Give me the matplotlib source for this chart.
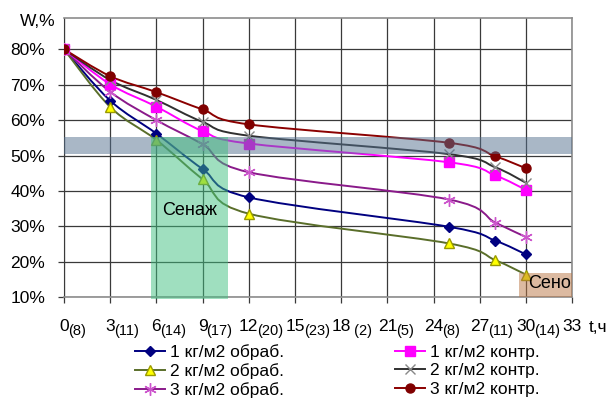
import numpy as np
import matplotlib
matplotlib.use('Agg')
import matplotlib.pyplot as plt
from matplotlib.path import Path
from matplotlib.patches import PathPatch, Rectangle
from matplotlib.lines import Line2D
from matplotlib.ticker import PercentFormatter

plt.rcParams['font.family'] = ['Liberation Sans', 'DejaVu Sans']

# ---------------- data ----------------
hours = [0, 3, 6, 9, 12, 25, 28, 30]
w_1_obr = [80, 65.5, 56.2, 46.2, 38.2, 29.9, 26.0, 22.1]
w_2_obr = [80, 63.7, 54.4, 43.3, 33.6, 25.2, 20.5, 16.4]
w_3_obr = [80, 68.0, 60.0, 53.2, 45.3, 37.6, 31.1, 27.0]
w_1_kon = [80, 70.1, 63.8, 56.9, 53.4, 48.1, 44.4, 40.3]
w_2_kon = [80, 71.3, 65.7, 59.5, 55.6, 50.4, 46.7, 42.3]
w_3_kon = [80, 72.4, 67.9, 63.0, 58.8, 53.6, 49.8, 46.4]
series_labels = ['1 кг/м2 обраб.', '2 кг/м2 обраб.', '3 кг/м2 обраб.',
                 '1 кг/м2 контр.', '2 кг/м2 контр.', '3 кг/м2 контр.']
tick_hours = [0, 3, 6, 9, 12, 15, 18, 21, 24, 27, 30, 33]
tick_main = ['0', '3', '6', '9', '12', '15', '18', '21', '24', '27', '30', '33']
tick_sub = ['(8)', '(11)', '(14)', '(17)', '(20)', '(23)', ' (2)', '(5)', '(8)', '(11)', '(14)', '']
y_ticks = [10, 20, 30, 40, 50, 60, 70, 80]

# ---------------- styles ----------------
styles = [
    dict(color='#000080', marker='D', ms=5, mfc='#000080', mec='#000080'),
    dict(color='#5A6E2A', marker='^', ms=7, mfc='#FFFF00', mec='#9A9A00'),
    dict(color='#8A1A8A', marker=(6, 2, 0), ms=9, mfc='#CC55CC', mec='#CC55CC'),
    dict(color='#FF00FF', marker='s', ms=6.5, mfc='#FF00FF', mec='#FF00FF'),
    dict(color='#303030', marker='x', ms=6.5, mfc='#888888', mec='#888888'),
    dict(color='#8B0000', marker='o', ms=6.5, mfc='#800000', mec='#800000'),
]
data = [w_1_obr, w_2_obr, w_3_obr, w_1_kon, w_2_kon, w_3_kon]

FS = 12.5


def smooth_path(x, y):
    p = np.column_stack([x, y]).astype(float)
    n = len(p)
    verts = [p[0]]
    codes = [Path.MOVETO]
    for i in range(n - 1):
        p0 = p[max(i - 1, 0)]
        p1 = p[i]
        p2 = p[i + 1]
        p3 = p[min(i + 2, n - 1)]
        c1 = p1 + (p2 - p0) / 6.0
        c2 = p2 - (p3 - p1) / 6.0
        verts += [c1, c2, p2]
        codes += [Path.CURVE4] * 3
    return Path(verts, codes)


fig = plt.figure(figsize=(6.13, 3.98), dpi=100)
ax = fig.add_axes([0.1044, 0.253, 0.829, 0.7025])

ax.set_xlim(0, 33)
ax.set_ylim(10, 88.9)

handles = []
for vals, st in zip(data, styles):
    patch = PathPatch(smooth_path(hours, vals), facecolor='none',
                      edgecolor=st['color'], lw=1.4, zorder=3)
    ax.add_patch(patch)
    ax.plot(hours, vals, ls='none', marker=st['marker'], ms=st['ms'],
            mfc=st['mfc'], mec=st['mec'], mew=1.0, zorder=3.5)
    handles.append(Line2D([], [], color=st['color'], lw=1.4, marker=st['marker'],
                          ms=st['ms'], mfc=st['mfc'], mec=st['mec'], mew=1.0))

# overlays
ax.add_patch(Rectangle((0, 50.5), 33, 4.6, facecolor='#54708F', alpha=0.5,
                       edgecolor='none', zorder=4))
ax.add_patch(Rectangle((5.66, 9.4), 4.99, 45.7, facecolor='#40C080', alpha=0.5,
                       edgecolor='none', zorder=4.1, clip_on=False))
ax.add_patch(Rectangle((29.56, 10), 3.44, 6.9, facecolor='#BB7744', alpha=0.5,
                       edgecolor='none', zorder=4.2))
ax.text(6.4, 34.6, 'Сенаж', fontsize=13, va='center', ha='left', zorder=5)
ax.text(30.15, 13.8, 'Сено', fontsize=13, va='center', ha='left', zorder=5)

# grid / axes
ax.set_xticks(tick_hours)
ax.set_xticklabels(tick_main)
ax.set_yticks(y_ticks)
ax.yaxis.set_major_formatter(PercentFormatter(100, decimals=0))
ax.set_axisbelow(True)
ax.grid(True, color='#3a3a3a', lw=0.9)
for s in ['top', 'right', 'bottom']:
    ax.spines[s].set_color('#8c8c8c')
    ax.spines[s].set_linewidth(1.2)
ax.spines['left'].set_color('#3a3a3a')
ax.tick_params(axis='x', direction='out', length=4.5, width=0.9, color='#3a3a3a',
               labelsize=FS, pad=11)
ax.tick_params(axis='y', direction='out', length=4.5, width=0.9, color='#3a3a3a',
               labelsize=FS, pad=9)

fig.text(0.033, 0.947, 'W,%', fontsize=FS, va='center', ha='left')
fig.text(0.961, 0.178, 't,ч', fontsize=FS, va='center', ha='left')

fig.legend(handles, series_labels, ncol=2, loc='upper left',
           bbox_to_anchor=(0.2202, 0.136), frameon=False, fontsize=12.5,
           handlelength=1.75, handletextpad=0.25, columnspacing=6.4,
           labelspacing=0.2, borderpad=0, borderaxespad=0)

# subscripts on x tick labels
fig.canvas.draw()
renderer = fig.canvas.get_renderer()
inv = fig.transFigure.inverted()
for lbl, sub in zip(ax.get_xticklabels(), tick_sub):
    if not sub:
        continue
    bb = lbl.get_window_extent(renderer)
    xf, yf = inv.transform((bb.x1 - 1, bb.y0 - 4))
    fig.text(xf, yf, sub, fontsize=10.5, va='bottom', ha='left')

fig.savefig('out.png', dpi=100)
